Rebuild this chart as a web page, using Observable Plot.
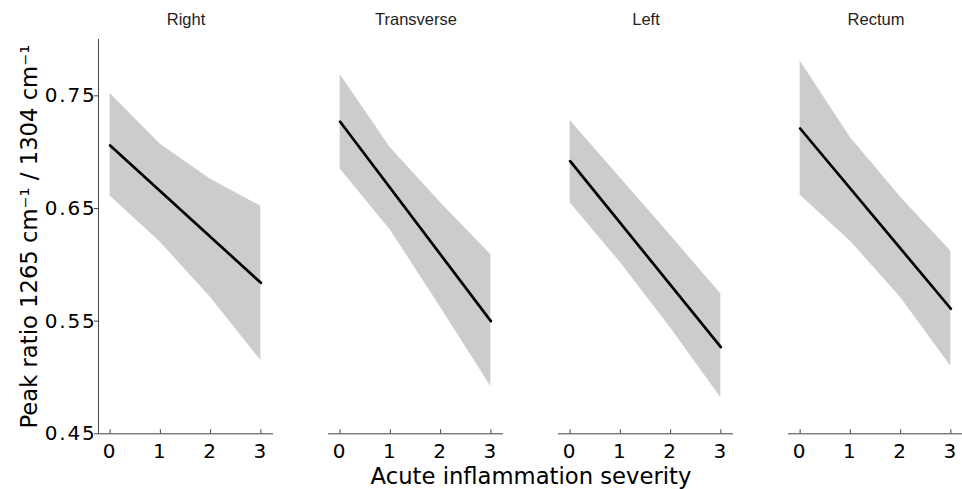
<!DOCTYPE html>
<html>
<head>
<meta charset="utf-8">
<script src="https://cdn.jsdelivr.net/npm/d3@7"></script>
<script src="https://cdn.jsdelivr.net/npm/@observablehq/plot@0.6"></script>
<style>
  html, body { margin: 0; padding: 0; background: #fff; overflow: hidden; }
  #chart svg { display: block; }
  g[aria-label="x-axis tick label"], g[aria-label="y-axis tick label"] {
    font-family: "DejaVu Sans", sans-serif; font-size: 20px; letter-spacing: 1.8px; fill: #000;
  }
  g[aria-label="y-axis label"], g[aria-label="fx-axis label"] {
    font-family: "DejaVu Sans", sans-serif; font-size: 22.7px; fill: #000;
  }
  g[aria-label="fx-axis tick label"] {
    font-family: "Liberation Sans", Arial, sans-serif; font-size: 16.5px; fill: #222;
  }
</style>
</head>
<body>
<div id="chart"></div>
<script>
// ---- data ----
const panels = ["Right", "Transverse", "Left", "Rectum"];
const severity = [0, 1, 2, 3];
// confidence band, per panel, at severity 0..3
const upper = [
  [0.752, 0.707, 0.676, 0.652],
  [0.769, 0.704, 0.655, 0.609],
  [0.728, 0.677, 0.626, 0.574],
  [0.781, 0.713, 0.660, 0.612]
];
const lower = [
  [0.661, 0.620, 0.571, 0.515],
  [0.685, 0.631, 0.562, 0.492],
  [0.655, 0.602, 0.544, 0.482],
  [0.662, 0.621, 0.571, 0.510]
];
// fitted line at severity 0 and 3
const fitStart = [0.706, 0.727, 0.692, 0.721];
const fitEnd   = [0.584, 0.550, 0.527, 0.561];
const yTicks = [0.45, 0.55, 0.65, 0.75];
const xDomain = [-0.2316, 3.2516];
const yDomain = [0.45, 0.8];
const yLabel = "Peak ratio 1265 cm\u207B\u00B9 / 1304 cm\u207B\u00B9";
const xLabel = "Acute inflammation severity";

// ---- tables for Plot ----
const bandRows = [];
panels.forEach((p, i) => severity.forEach((s, j) =>
  bandRows.push({panel: p, sev: s, lo: lower[i][j], hi: upper[i][j]})));
const fitRows = [];
panels.forEach((p, i) => {
  fitRows.push({panel: p, sev: severity[0], val: fitStart[i]});
  fitRows.push({panel: p, sev: severity[severity.length - 1], val: fitEnd[i]});
});
const baseRows = panels.map(p => ({panel: p, v: yDomain[0]}));
const leftRows = [{panel: panels[0], v: xDomain[0]}];

const chart = Plot.plot({
  width: 962,
  height: 489,
  marginLeft: 96,
  marginRight: -3,
  marginTop: 39,
  marginBottom: 55.7,
  fx: {domain: panels, paddingInner: 0.238, paddingOuter: 0, label: null},
  x: {domain: xDomain},
  y: {domain: yDomain},
  marks: [
    Plot.areaY(bandRows, {fx: "panel", x: "sev", y1: "lo", y2: "hi", fill: "#cccccc"}),
    Plot.lineY(fitRows, {fx: "panel", x: "sev", y: "val", stroke: "#000", strokeWidth: 2.7}),
    Plot.ruleY(baseRows, {fx: "panel", y: "v", stroke: "#444", strokeWidth: 1}),
    Plot.ruleX(leftRows, {fx: "panel", x: "v", stroke: "#444", strokeWidth: 1}),
    Plot.axisX({ticks: severity, tickFormat: d3.format("d"), tickSize: -4, tickPadding: 14.4,
      stroke: "#444", label: null}),
    Plot.axisY({ticks: yTicks, tickFormat: d3.format(".2f"), tickSize: 4, tickPadding: -2,
      stroke: "#444", label: yLabel, labelAnchor: "center", labelOffset: 78, labelArrow: false}),
    Plot.axisFx({anchor: "top", tickSize: 0, tickPadding: 15, label: null}),
    Plot.axisFx({anchor: "bottom", tickSize: 0, tickFormat: () => "", label: xLabel,
      labelAnchor: "center", labelOffset: 50, labelArrow: false})
  ]
});
document.getElementById("chart").appendChild(chart);
</script>
</body>
</html>
